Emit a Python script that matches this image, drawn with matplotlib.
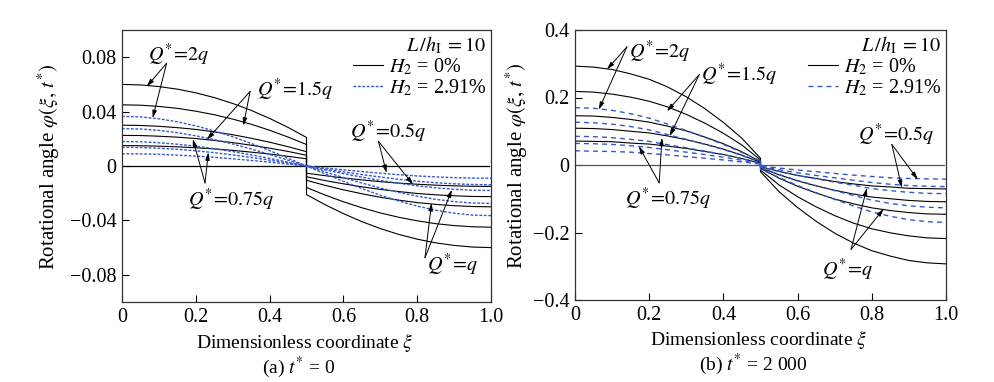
import numpy as np
import matplotlib as mpl
mpl.rcParams['font.family'] = 'serif'
mpl.rcParams['font.serif'] = ['Liberation Serif', 'DejaVu Serif']
mpl.rcParams['mathtext.fontset'] = 'stix'
mpl.rcParams['xtick.direction'] = 'in'
mpl.rcParams['ytick.direction'] = 'in'
import matplotlib.pyplot as plt

#-----------------------------------------------------------------------------
# data; xi = 0.5 appears twice (jump at mid-span)
xi = [0, .05, .1, .15, .2, .25, .3, .35, .4, .45, .5,
      .5, .55, .6, .65, .7, .75, .8, .85, .9, .95, 1.0]
loads = ["2q", "1.5q", "q", "0.75q", "0.5q"]

# (a) t* = 0, H2 = 0%
a_blk_2q  = [0.0600, 0.0596, 0.0584, 0.0565, 0.0538, 0.0503, 0.0460, 0.0409, 0.0350, 0.0284, 0.0210,
             -0.0210, -0.0284, -0.0350, -0.0409, -0.0460, -0.0503, -0.0538, -0.0565, -0.0584, -0.0596, -0.0600]
a_blk_15q = [0.0450, 0.0447, 0.0438, 0.0424, 0.0403, 0.0377, 0.0345, 0.0307, 0.0263, 0.0213, 0.0158,
             -0.0158, -0.0213, -0.0263, -0.0307, -0.0345, -0.0377, -0.0403, -0.0424, -0.0438, -0.0447, -0.0450]
a_blk_1q  = [0.0300, 0.0298, 0.0292, 0.0282, 0.0269, 0.0251, 0.0230, 0.0204, 0.0175, 0.0142, 0.0105,
             -0.0105, -0.0142, -0.0175, -0.0204, -0.0230, -0.0251, -0.0269, -0.0282, -0.0292, -0.0298, -0.0300]
a_blk_075q = [0.0225, 0.0224, 0.0219, 0.0212, 0.0202, 0.0188, 0.0172, 0.0153, 0.0131, 0.0107, 0.0079,
              -0.0079, -0.0107, -0.0131, -0.0153, -0.0172, -0.0188, -0.0202, -0.0212, -0.0219, -0.0224, -0.0225]
a_blk_05q = [0.0150, 0.0149, 0.0146, 0.0141, 0.0134, 0.0126, 0.0115, 0.0102, 0.0088, 0.0071, 0.0053,
             -0.0053, -0.0071, -0.0088, -0.0102, -0.0115, -0.0126, -0.0134, -0.0141, -0.0146, -0.0149, -0.0150]
# (a) t* = 0, H2 = 2.91%
a_blu_2q  = [0.0365, 0.0361, 0.0347, 0.0325, 0.0295, 0.0258, 0.0215, 0.0166, 0.0113, 0.0057, 0.0,
             0.0, -0.0057, -0.0113, -0.0166, -0.0215, -0.0258, -0.0295, -0.0325, -0.0347, -0.0361, -0.0365]
a_blu_15q = [0.0275, 0.0272, 0.0262, 0.0245, 0.0222, 0.0194, 0.0162, 0.0125, 0.0085, 0.0043, 0.0,
             0.0, -0.0043, -0.0085, -0.0125, -0.0162, -0.0194, -0.0222, -0.0245, -0.0262, -0.0272, -0.0275]
a_blu_1q  = [0.0180, 0.0178, 0.0171, 0.0160, 0.0146, 0.0127, 0.0106, 0.0082, 0.0056, 0.0028, 0.0,
             0.0, -0.0028, -0.0056, -0.0082, -0.0106, -0.0127, -0.0146, -0.0160, -0.0171, -0.0178, -0.0180]
a_blu_075q = [0.0138, 0.0136, 0.0131, 0.0123, 0.0112, 0.0098, 0.0081, 0.0063, 0.0043, 0.0022, 0.0,
              0.0, -0.0022, -0.0043, -0.0063, -0.0081, -0.0098, -0.0112, -0.0123, -0.0131, -0.0136, -0.0138]
a_blu_05q = [0.0090, 0.0089, 0.0086, 0.0080, 0.0073, 0.0064, 0.0053, 0.0041, 0.0028, 0.0014, 0.0,
             0.0, -0.0014, -0.0028, -0.0041, -0.0053, -0.0064, -0.0073, -0.0080, -0.0086, -0.0089, -0.0090]

# (b) t* = 2000, H2 = 0%
b_blk_2q  = [0.293, 0.290, 0.283, 0.270, 0.254, 0.231, 0.202, 0.167, 0.126, 0.079, 0.020,
             -0.020, -0.079, -0.126, -0.167, -0.202, -0.231, -0.254, -0.270, -0.283, -0.290, -0.293]
b_blk_15q = [0.218, 0.216, 0.210, 0.201, 0.189, 0.172, 0.150, 0.124, 0.094, 0.059, 0.015,
             -0.015, -0.059, -0.094, -0.124, -0.150, -0.172, -0.189, -0.201, -0.210, -0.216, -0.218]
b_blk_1q  = [0.146, 0.145, 0.141, 0.135, 0.127, 0.115, 0.101, 0.083, 0.063, 0.039, 0.010,
             -0.010, -0.039, -0.063, -0.083, -0.101, -0.115, -0.127, -0.135, -0.141, -0.145, -0.146]
b_blk_075q = [0.109, 0.108, 0.105, 0.100, 0.095, 0.086, 0.075, 0.062, 0.047, 0.029, 0.008,
              -0.008, -0.029, -0.047, -0.062, -0.075, -0.086, -0.095, -0.100, -0.105, -0.108, -0.109]
b_blk_05q = [0.071, 0.070, 0.069, 0.065, 0.062, 0.056, 0.049, 0.040, 0.031, 0.019, 0.005,
             -0.005, -0.019, -0.031, -0.040, -0.049, -0.056, -0.062, -0.065, -0.069, -0.070, -0.071]
# (b) t* = 2000, H2 = 2.91%
b_blu_2q  = [0.170, 0.168, 0.162, 0.152, 0.139, 0.121, 0.102, 0.082, 0.061, 0.037, 0.012,
             -0.012, -0.037, -0.061, -0.082, -0.102, -0.121, -0.139, -0.152, -0.162, -0.168, -0.170]
b_blu_15q = [0.127, 0.125, 0.121, 0.114, 0.104, 0.090, 0.076, 0.061, 0.046, 0.028, 0.009,
             -0.009, -0.028, -0.046, -0.061, -0.076, -0.090, -0.104, -0.114, -0.121, -0.125, -0.127]
b_blu_1q  = [0.085, 0.084, 0.081, 0.076, 0.070, 0.060, 0.051, 0.041, 0.031, 0.019, 0.006,
             -0.006, -0.019, -0.031, -0.041, -0.051, -0.060, -0.070, -0.076, -0.081, -0.084, -0.085]
b_blu_075q = [0.064, 0.063, 0.061, 0.057, 0.052, 0.045, 0.038, 0.031, 0.023, 0.014, 0.004,
              -0.004, -0.014, -0.023, -0.031, -0.038, -0.045, -0.052, -0.057, -0.061, -0.063, -0.064]
b_blu_05q = [0.042, 0.041, 0.040, 0.038, 0.034, 0.030, 0.025, 0.020, 0.015, 0.009, 0.003,
             -0.003, -0.009, -0.015, -0.020, -0.025, -0.030, -0.034, -0.038, -0.040, -0.041, -0.042]

# annotations: label, text centre, arrow origin, two arrow tips (data coords)
a_notes = [("2q",    (0.152, 0.0815), (0.121, 0.0756), [(0.067, 0.0584), (0.083, 0.0352)]),
           ("1.5q",  (0.468, 0.0560), (0.347, 0.0548), [(0.329, 0.0296), (0.230, 0.0193)]),
           ("0.75q", (0.295, -0.0247), (0.225, -0.0125), [(0.192, 0.0198), (0.234, 0.0100)]),
           ("0.5q",  (0.722, 0.0252), (0.695, 0.0181), [(0.717, -0.0051), (0.789, -0.0137)]),
           ("q",     (0.897, -0.0724), (0.821, -0.0675), [(0.839, -0.0272), (0.894, -0.0174)])]
b_notes = [("2q",    (0.229, 0.336), (0.140, 0.350), [(0.086, 0.283), (0.064, 0.164)]),
           ("1.5q",  (0.442, 0.268), (0.335, 0.268), [(0.248, 0.159), (0.255, 0.085)]),
           ("0.75q", (0.252, -0.102), (0.227, -0.053), [(0.172, 0.0557), (0.2345, 0.0806)]),
           ("0.5q",  (0.865, 0.090), (0.854, 0.061), [(0.881, -0.0676), (0.924, -0.043)]),
           ("q",     (0.7345, -0.310), (0.744, -0.250), [(0.787, -0.0676), (0.832, -0.130)])]

#-----------------------------------------------------------------------------
blue = '#3358cc'
fig = plt.figure(figsize=(9.94, 3.82), dpi=100)
ax1 = fig.add_axes([122/994, 1-302/382, 369/994, 272/382])
ax2 = fig.add_axes([575/994, 1-300/382, 371/994, 270/382])

panels = [(ax1, [a_blk_2q, a_blk_15q, a_blk_1q, a_blk_075q, a_blk_05q],
           [a_blu_2q, a_blu_15q, a_blu_1q, a_blu_075q, a_blu_05q], (0, (2.0, 1.2)), a_notes,
           0.1, [-0.08, -0.04, 0, 0.04, 0.08], ['\u22120.08', '\u22120.04', '0', '0.04', '0.08'],
           r'(a) $t^{*}$ = 0', 'k'),
          (ax2, [b_blk_2q, b_blk_15q, b_blk_1q, b_blk_075q, b_blk_05q],
           [b_blu_2q, b_blu_15q, b_blu_1q, b_blu_075q, b_blu_05q], (0, (3.5, 3.0)), b_notes,
           0.4, [-0.4, -0.2, 0, 0.2, 0.4], ['\u22120.4', '\u22120.2', '0', '0.2', '0.4'],
           r'(b) $t^{*}$ = 2 000', '#555555')]

for ax, blks, blus, dash, notes, ymax, yt, ytl, sub, zc in panels:
    ax.plot([0, 0.995], [0, 0], color=zc, lw=0.9)
    for i in range(len(blks)):
        ax.plot(xi, blks[i], color='k', lw=0.8, label=r'$H_2$ = 0%' if i == 0 else None)
    for i in range(len(blus)):
        ax.plot(xi, blus[i], color=blue, lw=1.0, ls=dash, label=r'$H_2$ = 2.91%' if i == 0 else None)

    for lab, tpos, orig, tips in notes:
        ax.text(tpos[0], tpos[1], r'$Q^{*}\!=\!%s$' % lab, ha='center', va='center', fontsize=14.5)
        for tip in tips:
            ax.annotate('', xy=tip, xytext=orig,
                        arrowprops=dict(arrowstyle='-|>,head_length=0.45,head_width=0.13',
                                        color='k', lw=0.7, shrinkA=0, shrinkB=0))

    ax.set_xlim(0, 1)
    ax.set_ylim(-ymax, ymax)
    ax.set_xticks([0, 0.2, 0.4, 0.6, 0.8, 1.0])
    ax.set_xticklabels(['0', '0.2', '0.4', '0.6', '0.8', '1.0'])
    ax.set_yticks(yt)
    ax.set_yticklabels(ytl)
    ax.tick_params(labelsize=14.5, length=5, width=0.8, pad=4)
    for s in ax.spines.values():
        s.set_linewidth(0.9); s.set_color('#333333')

    leg = ax.legend(loc='upper right', frameon=False, fontsize=14.5, title=r'$L\,/h_{\rm I}\;=10$',
                    title_fontsize=14.5, alignment='right', handlelength=1.45, handletextpad=0.3,
                    labelspacing=0.0, borderpad=0.1, borderaxespad=0.15)

    ax.text(0.495, -0.148, r'Dimensionless coordinate $\xi$', transform=ax.transAxes,
            ha='center', va='center', fontsize=14)
    ax.text(0.48, -0.24, sub, transform=ax.transAxes, ha='center', va='center', fontsize=14)

ax1.text(-0.198, 0.496, r'Rotational angle $\varphi(\xi,\, t^{*})$', transform=ax1.transAxes,
         rotation=90, ha='center', va='center', fontsize=15)
ax2.text(-0.156, 0.496, r'Rotational angle $\varphi(\xi,\, t^{*})$', transform=ax2.transAxes,
         rotation=90, ha='center', va='center', fontsize=15)

fig.savefig('out.png', dpi=100)
